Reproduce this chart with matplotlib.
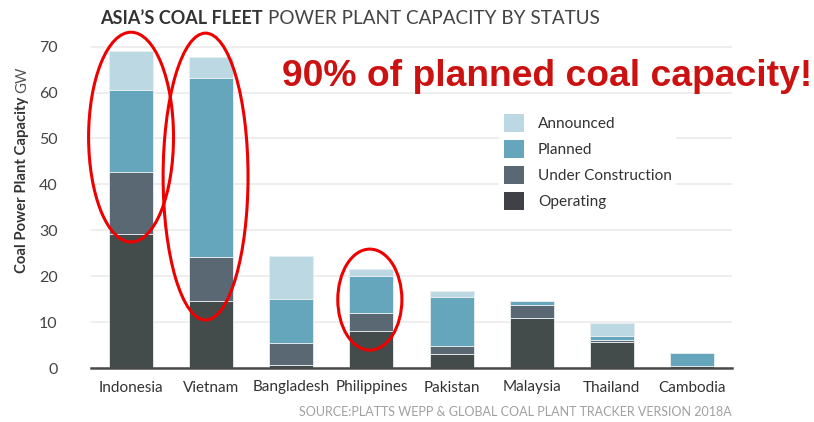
import matplotlib
matplotlib.use("Agg")
import matplotlib.pyplot as plt
from matplotlib.patches import Ellipse
import numpy as np

countries = ["Indonesia", "Vietnam", "Bangladesh", "Philippines", "Pakistan",
             "Malaysia", "Thailand", "Cambodia"]
operating = [29.3, 14.5, 0.6, 8.1, 3.0, 10.8, 5.7, 0.4]
under_construction = [13.5, 9.6, 4.9, 3.9, 1.9, 2.9, 0.5, 0.0]
planned = [17.8, 39.0, 9.6, 8.0, 10.6, 1.0, 0.8, 2.9]
announced = [8.5, 4.6, 9.2, 1.5, 1.3, 0.0, 2.8, 0.0]
series_names = ["Operating", "Under Construction", "Planned", "Announced"]
colors = ["#434b4b", "#5a6873", "#66a6bc", "#bcd9e3"]
legend_colors = ["#3f4147", "#5a6873", "#66a6bc", "#bcd9e3"]

plt.rcParams['font.family'] = ['Lato', 'DejaVu Sans']

fig = plt.figure(figsize=(8.14, 4.22), dpi=100)
ax = fig.add_axes([91/814, 1-368/422, (732-91)/814, (368-37.5)/422])

x = np.arange(len(countries))
bottom = np.zeros(len(countries))
handles = []
for vals, c, lc, name in zip([operating, under_construction, planned, announced],
                             colors, legend_colors, series_names):
    ax.bar(x, vals, width=0.55, bottom=bottom, color=c, edgecolor="#e8eef0",
           linewidth=0.6, zorder=3)
    handles.append(plt.Rectangle((0, 0), 1, 1, facecolor=lc, edgecolor="none", label=name))
    bottom += np.array(vals)

ax.set_xlim(-0.5, 7.5)
ax.set_ylim(0, 72)
ax.set_yticks(range(0, 71, 10))
ax.set_xticks(x)
ax.set_xticklabels(countries)
ax.tick_params(axis='x', length=0, labelsize=11, colors="#333333", pad=9)
ax.tick_params(axis='y', length=0, labelsize=11.5, colors="#444444", pad=24)
ax.grid(axis='y', color="#ebebeb", linewidth=1.2, zorder=0)
for s in ["top", "right", "left"]:
    ax.spines[s].set_visible(False)
ax.spines["bottom"].set_color("#4a4a4a")
ax.spines["bottom"].set_linewidth(1.8)
ax.spines["bottom"].set_zorder(4)

leg = ax.legend(handles=handles[::-1], labels=series_names[::-1],
                loc="upper left", bbox_to_anchor=(0.625, 0.805),
                frameon=True, facecolor="white", edgecolor="none", framealpha=1,
                fontsize=11.1, handlelength=1.3, handleheight=1.4,
                labelspacing=0.52, handletextpad=0.9, borderpad=0.3)
for t in leg.get_texts():
    t.set_color("#333333")
leg.set_zorder(5)

# Title (two styles chained)
t1 = fig.text(100/814, 1-18/422, "ASIA\u2019S COAL FLEET", fontsize=13, fontweight="bold",
              color="#333333", va="center", ha="left")
# Y label (two styles chained)
y1 = fig.text(22/814, 1-273/422, "Coal Power Plant Capacity", fontsize=10.7, fontweight="bold",
              color="#333333", rotation=90, va="bottom", ha="center")

fig.canvas.draw()
r = fig.canvas.get_renderer()
bb = t1.get_window_extent(r)
fig.text(bb.x1 + 5, bb.y0 + bb.height/2, "POWER PLANT CAPACITY BY STATUS", fontsize=13.6,
         color="#444444", va="center", ha="left", transform=None)
bb = y1.get_window_extent(r)
fig.text(bb.x0 + bb.width/2, bb.y1 + 4, "GW", fontsize=10.7,
         color="#555555", rotation=90, va="bottom", ha="center", transform=None)

# Source
fig.text(732/814, 1-412/422, "SOURCE:PLATTS WEPP & GLOBAL COAL PLANT TRACKER VERSION 2018A",
         fontsize=9, color="#a0a0a0", ha="right", va="center")

# Highlight annotation
fig.text(812/814, 1-77/422, "90% of planned coal capacity!", fontsize=26.8,
         fontweight="bold", color="#cc1111", ha="right", va="center",
         family=["Liberation Sans", "DejaVu Sans"])

for cx, cy, w, h in [(0.0, 50.3, 1.06, 45.7), (0.93, 41.7, 1.06, 62.5), (2.98, 14.9, 0.8, 22.0)]:
    ax.add_patch(Ellipse((cx, cy), w, h, fill=False, edgecolor="#ee0000",
                         linewidth=2.2, zorder=6, clip_on=False))

fig.savefig("out.png", dpi=100, facecolor="white")
